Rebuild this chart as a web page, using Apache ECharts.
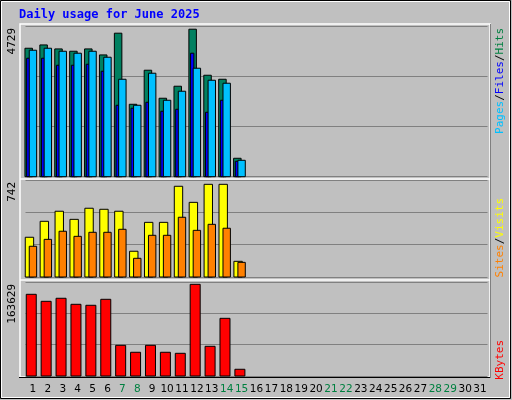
<!DOCTYPE html>
<html><head><meta charset="utf-8">
<script src="https://cdn.jsdelivr.net/npm/echarts@6/dist/echarts.min.js"></script>
<style>html,body{margin:0;padding:0;background:#c0c0c0}#c{width:512px;height:400px}</style>
</head><body><div id="c"></div>
<script>
var days = [];
for (var d = 1; d <= 31; d++) days.push(String(d));
var weekend = ['7','8','14','15','21','22','28','29'];
var hits  = [4031,4135,4010,3937,4010,3821,4503,2273,3341,2462,2839,4628,3184,3058,578];
var files = [3969,4031,3937,3875,3937,3749,3058,2242,3247,2399,2682,3404,3027,2933,515];
var pages = [3718,3718,3498,3498,3529,3310,2242,2148,2336,2054,2116,3875,2022,2399,484];
var visits= [304,426,503,441,526,518,503,197,418,418,694,571,709,709,120];
var sites = [235,288,350,311,342,342,365,143,319,319,457,357,403,373,112];
var kbytes= [142200,130000,135300,124800,123100,133500,53400,41300,53400,41300,39500,159600,51700,100400,11700];
var maxHits = 4729, maxVisits = 742, maxKB = 163629;

function barSeries(data, gi, color, x0, x1, z) {
  return {
    type: 'custom', xAxisIndex: gi, yAxisIndex: gi, z: z,
    data: data.map(function (v, i) { return [i, v]; }),
    renderItem: function (params, api) {
      var top = api.coord([api.value(0), api.value(1)]);
      var bot = api.coord([api.value(0), 0]);
      return { type: 'rect', shape: { x: top[0] + x0, y: top[1], width: x1 - x0, height: bot[1] - top[1] },
        style: { fill: color, stroke: '#000', lineWidth: 1 } };
    }
  };
}
var grids = [
  { left: 25.5, right: 24.5, top: 26, height: 150.7 },
  { left: 25.5, right: 24.5, top: 180, height: 97 },
  { left: 25.5, right: 24.5, top: 282, height: 94 }
];
var maxes = [maxHits, maxVisits, maxKB];
var xAxes = grids.map(function (g, i) {
  return { type: 'category', gridIndex: i, data: days, boundaryGap: true,
    axisLine: { show: false }, axisTick: { show: false },
    axisLabel: i === 2 ? { show: true, fontFamily: 'DejaVu Sans', fontSize: 10.5, margin: 8,
      color: function (v) { return weekend.indexOf(v) >= 0 ? '#008040' : '#000'; }, interval: 0 } : { show: false } };
});
var yAxes = grids.map(function (g, i) {
  return { type: 'value', gridIndex: i, min: 0, max: maxes[i], interval: maxes[i] / 3,
    axisLabel: { show: false }, axisLine: { show: false }, axisTick: { show: false },
    splitLine: { show: true, lineStyle: { color: '#808080', width: 1 } } };
});
var richL = { p:{fill:'#00c0ff'}, f:{fill:'#0000ff'}, h:{fill:'#008040'}, s:{fill:'#ff8000'}, v:{fill:'#ffff00'}, k:{fill:'#ff0000'}, b:{fill:'#000'} };
function vtext(x, y, str, rich) {
  return { type: 'text', x: x, y: y, rotation: Math.PI / 2, z: 10,
    style: { text: str, rich: rich, fill: '#000', fontFamily: 'DejaVu Sans Mono', fontSize: 11, align: 'right', verticalAlign: 'middle' } };
}
var graphics = [
  { type: 'rect', shape: { x: 0.5, y: 0.5, width: 510, height: 398 }, style: { fill: '#c0c0c0', stroke: '#000', lineWidth: 1 }, z: -10 },
  { type: 'rect', shape: { x: 1.5, y: 1.5, width: 508, height: 396 }, style: { fill: 'none', stroke: '#fff', lineWidth: 1 }, z: -9 },
  { type: 'rect', shape: { x: 20, y: 24, width: 470, height: 353 }, style: { fill: '#c0c0c0', stroke: '#fff', lineWidth: 1.5 }, z: -8 },
  { type: 'line', shape: { x1: 20, y1: 179, x2: 490, y2: 179 }, style: { stroke: '#fff', lineWidth: 1.5 }, z: 5 },
  { type: 'line', shape: { x1: 20, y1: 280, x2: 490, y2: 280 }, style: { stroke: '#fff', lineWidth: 1.5 }, z: 5 },
  { type: 'line', shape: { x1: 19, y1: 377.5, x2: 491, y2: 377.5 }, style: { stroke: '#000', lineWidth: 1 }, z: 5 },
  { type: 'line', shape: { x1: 490.5, y1: 24, x2: 490.5, y2: 378 }, style: { stroke: '#808080', lineWidth: 1 }, z: 5 },
  { type: 'text', x: 19, y: 15, style: { text: 'Daily usage for June 2025', fontFamily: 'DejaVu Sans Mono', fontWeight: 'bold', fontSize: 12, fill: '#0000ff', verticalAlign: 'middle' } },
  vtext(12, 28, String(maxHits)),
  vtext(12, 182, String(maxVisits)),
  vtext(12, 284, String(maxKB)),
  vtext(500, 28, '{p|Pages}{b|/}{f|Files}{b|/}{h|Hits}', richL),
  vtext(500, 198, '{s|Sites}{b|/}{v|Visits}', richL),
  vtext(500, 340, '{k|KBytes}', richL)
];
var chart = echarts.init(document.getElementById('c'));
chart.setOption({
  backgroundColor: '#c0c0c0', animation: false,
  grid: grids, xAxis: xAxes, yAxis: yAxes,
  graphic: { elements: graphics },
  series: [
    barSeries(hits, 0, '#008060', -8, -0.5, 2),
    barSeries(files, 0, '#00c0ff', -3.7, 3.7, 4),
    barSeries(pages, 0, '#0000ff', -6.3, -3, 3),
    barSeries(visits, 1, '#ffff00', -7.7, 0.7, 2),
    barSeries(sites, 1, '#ff8000', -3.7, 3.7, 3),
    barSeries(kbytes, 2, '#ff0000', -6.7, 3.3, 2)
  ]
});
</script></body></html>
